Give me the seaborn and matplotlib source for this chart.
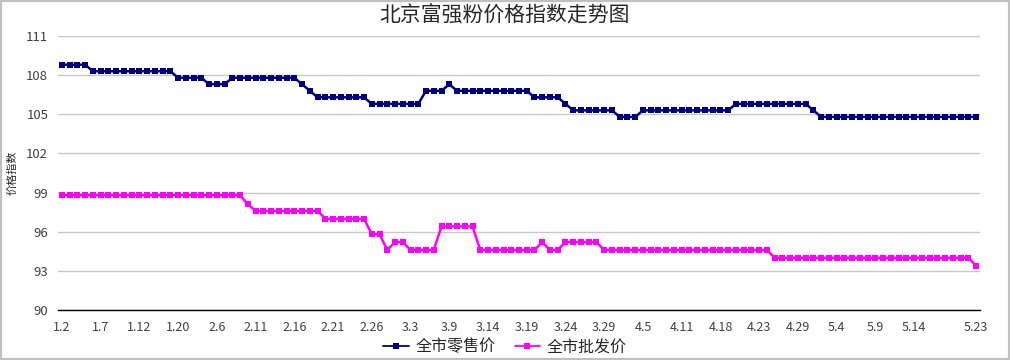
import matplotlib
matplotlib.use("Agg")
import matplotlib.pyplot as plt
from matplotlib.patches import Rectangle
import seaborn as sns
import pandas as pd

# retail price index, one value per trading day
retail = [
    108.8, 108.8, 108.8, 108.8, 108.3, 108.3, 108.3, 108.3, 108.3, 108.3,
    108.3, 108.3, 108.3, 108.3, 108.3, 107.8, 107.8, 107.8, 107.8, 107.3,
    107.3, 107.3, 107.8, 107.8, 107.8, 107.8, 107.8, 107.8, 107.8, 107.8,
    107.8, 107.3, 106.8, 106.3, 106.3, 106.3, 106.3, 106.3, 106.3, 106.3,
    105.8, 105.8, 105.8, 105.8, 105.8, 105.8, 105.8, 106.8, 106.8, 106.8,
    107.3, 106.8, 106.8, 106.8, 106.8, 106.8, 106.8, 106.8, 106.8, 106.8,
    106.8, 106.3, 106.3, 106.3, 106.3, 105.8, 105.3, 105.3, 105.3, 105.3,
    105.3, 105.3, 104.8, 104.8, 104.8, 105.3, 105.3, 105.3, 105.3, 105.3,
    105.3, 105.3, 105.3, 105.3, 105.3, 105.3, 105.3, 105.8, 105.8, 105.8,
    105.8, 105.8, 105.8, 105.8, 105.8, 105.8, 105.8, 105.3, 104.8, 104.8,
    104.8, 104.8, 104.8, 104.8, 104.8, 104.8, 104.8, 104.8, 104.8, 104.8,
    104.8, 104.8, 104.8, 104.8, 104.8, 104.8, 104.8, 104.8, 104.8,
]

# wholesale price index
wholesale = [
    98.8, 98.8, 98.8, 98.8, 98.8, 98.8, 98.8, 98.8, 98.8, 98.8,
    98.8, 98.8, 98.8, 98.8, 98.8, 98.8, 98.8, 98.8, 98.8, 98.8,
    98.8, 98.8, 98.8, 98.8, 98.1, 97.6, 97.6, 97.6, 97.6, 97.6,
    97.6, 97.6, 97.6, 97.6, 97.0, 97.0, 97.0, 97.0, 97.0, 97.0,
    95.8, 95.8, 94.6, 95.2, 95.2, 94.6, 94.6, 94.6, 94.6, 96.4,
    96.4, 96.4, 96.4, 96.4, 94.6, 94.6, 94.6, 94.6, 94.6, 94.6,
    94.6, 94.6, 95.2, 94.6, 94.6, 95.2, 95.2, 95.2, 95.2, 95.2,
    94.6, 94.6, 94.6, 94.6, 94.6, 94.6, 94.6, 94.6, 94.6, 94.6,
    94.6, 94.6, 94.6, 94.6, 94.6, 94.6, 94.6, 94.6, 94.6, 94.6,
    94.6, 94.6, 94.0, 94.0, 94.0, 94.0, 94.0, 94.0, 94.0, 94.0,
    94.0, 94.0, 94.0, 94.0, 94.0, 94.0, 94.0, 94.0, 94.0, 94.0,
    94.0, 94.0, 94.0, 94.0, 94.0, 94.0, 94.0, 94.0, 93.4,
]

date_labels = ["1.2", "1.7", "1.12", "1.20", "2.6", "2.11", "2.16", "2.21",
               "2.26", "3.3", "3.9", "3.14", "3.19", "3.24", "3.29", "4.5",
               "4.11", "4.18", "4.23", "4.29", "5.4", "5.9", "5.14", "5.23"]
label_pos = list(range(0, 115, 5)) + [118]

series_names = ["全市零售价", "全市批发价"]
colors = ["#000080", "#FF00FF"]

n = len(retail)
df = pd.DataFrame({
    "idx": list(range(n)) * 2,
    "value": retail + wholesale,
    "series": [series_names[0]] * n + [series_names[1]] * n,
})

sns.set_style("white")
plt.rcParams["font.family"] = ["Noto Sans CJK SC", "DejaVu Sans"]

fig = plt.figure(figsize=(10.1, 3.6), dpi=100)
ax = fig.add_axes([58 / 1010, 50 / 360, 922 / 1010, 274 / 360])

sns.lineplot(data=df, x="idx", y="value", hue="series", palette=colors,
             marker="s", markersize=4.2, markeredgewidth=0, linewidth=1.8,
             ax=ax, legend=True)

ax.set_xlim(-0.5, n - 0.5)
ax.set_ylim(90, 111)
ax.set_yticks(range(90, 112, 3))
ax.yaxis.grid(True, color="#c8c8c8", linewidth=1)
ax.set_axisbelow(True)

# ticks sit between the labelled days, labels without ticks
ax.set_xticks([i + 2.5 for i in range(0, 115, 5)])
ax.set_xticklabels([])
ax.set_xticks(label_pos, minor=True)
ax.set_xticklabels(date_labels, minor=True)
ax.tick_params(axis="x", which="major", length=4, width=1, color="black", direction="out")
ax.tick_params(axis="x", which="minor", length=0, pad=8, labelsize=9, labelcolor="#404040")
ax.tick_params(axis="y", length=4, width=1, color="#404040", labelsize=9.5,
               labelcolor="#404040", pad=3)

for s in ["top", "right", "left"]:
    ax.spines[s].set_visible(False)
ax.spines["bottom"].set_color("black")
ax.spines["bottom"].set_linewidth(1)

ax.set_xlabel("")
ax.set_ylabel("价格指数", fontsize=8, labelpad=6)

fig.text(0.5, 1 - 16 / 360, "北京富强粉价格指数走势图", ha="center", va="center", fontsize=15)

handles, labels = ax.get_legend_handles_labels()
for h in handles:
    h.set_linewidth(1.3)
    h.set_markersize(5)
ax.legend(handles, labels, loc="center", bbox_to_anchor=(505 / 1010, 13 / 360),
          bbox_transform=fig.transFigure, ncol=2, frameon=False, fontsize=11.5,
          handlelength=1.6, columnspacing=1.2, handletextpad=0.4)

fig.patches.append(Rectangle((0, 0), 1, 1, transform=fig.transFigure, fill=False,
                             edgecolor="#c0c0c0", linewidth=3))

plt.savefig("out.png", dpi=100)
plt.close()
